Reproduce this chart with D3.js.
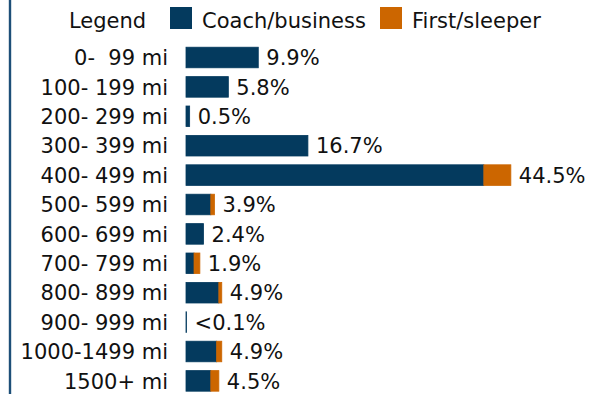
<!DOCTYPE html>
<html>
<head>
<meta charset="utf-8">
<script src="https://cdn.jsdelivr.net/npm/d3@7"></script>
<style>
  html, body { margin: 0; padding: 0; background: #fff; }
  svg { display: block; font-family: "DejaVu Sans", Verdana, sans-serif; }
  text { white-space: pre; }
</style>
</head>
<body>
<div id="chart"></div>
<script>
// Trip distance bands and share of trips (%) by class of service
const categories = ["0-  99 mi", "100- 199 mi", "200- 299 mi", "300- 399 mi", "400- 499 mi",
  "500- 599 mi", "600- 699 mi", "700- 799 mi", "800- 899 mi", "900- 999 mi",
  "1000-1499 mi", "1500+ mi"];
const coachBusiness = [9.9, 5.8, 0.5, 16.7, 40.8, 3.4, 2.4, 1.1, 4.5, 0.08, 4.2, 3.4];
const firstSleeper  = [0,   0,   0,   0,    3.7,  0.5, 0,   0.8, 0.4, 0,    0.7, 1.1];
const valueLabels = ["9.9%", "5.8%", "0.5%", "16.7%", "44.5%", "3.9%", "2.4%", "1.9%",
  "4.9%", "<0.1%", "4.9%", "4.5%"];
const seriesNames = ["Coach/business", "First/sleeper"];
const colors = ["#043a5e", "#cc6600"];

const width = 607, height = 394;
const fontSize = 21;

const svg = d3.select("#chart").append("svg")
  .attr("width", width).attr("height", height);

const rows = categories.map((c, i) => ({
  cat: c,
  coach: coachBusiness[i],
  first: firstSleeper[i],
  label: valueLabels[i]
}));

const stack = d3.stack().keys(["coach", "first"]);
const layers = stack(rows);

const x = d3.scaleLinear().domain([0, 50]).range([186, 551]);
const y = d3.scaleBand().domain(categories).range([42.8, 395.6])
  .paddingInner(0.3).paddingOuter(0.15);

// left rule
svg.append("line")
  .attr("x1", 10).attr("x2", 10).attr("y1", 0).attr("y2", height)
  .attr("stroke", "#1d4f78").attr("stroke-width", 2.4);

// stacked bars
svg.append("g").selectAll("g")
  .data(layers)
  .join("g")
  .attr("fill", (d, i) => colors[i])
  .attr("stroke", (d, i) => colors[i])
  .attr("stroke-width", 0.8)
  .selectAll("rect")
  .data(d => d.filter(s => s[1] - s[0] > 0))
  .join("rect")
  .attr("x", d => x(d[0]))
  .attr("y", d => y(d.data.cat))
  .attr("width", d => x(d[1]) - x(d[0]))
  .attr("height", y.bandwidth());

// category labels (axis without line/ticks)
const yAxis = d3.axisLeft(y).tickSize(0).tickPadding(0);
const ag = svg.append("g").attr("transform", "translate(168,0)").call(yAxis);
ag.select(".domain").remove();
ag.selectAll("text")
  .attr("font-family", "DejaVu Sans, Verdana, sans-serif")
  .attr("font-size", fontSize)
  .attr("fill", "#111")
  .attr("dy", "0.37em");

// value labels
svg.append("g").selectAll("text")
  .data(rows)
  .join("text")
  .attr("x", d => x(d.coach + d.first) + 8)
  .attr("y", d => y(d.cat) + y.bandwidth() / 2)
  .attr("dy", "0.37em")
  .attr("font-size", fontSize)
  .attr("fill", "#111")
  .text(d => d.label);

// legend
const legend = svg.append("g");
legend.append("text")
  .attr("x", 69).attr("y", 20).attr("dy", "0.37em")
  .attr("font-size", fontSize).attr("fill", "#111")
  .text("Legend");
const legendX = [170, 380];
seriesNames.forEach((name, i) => {
  legend.append("rect")
    .attr("x", legendX[i]).attr("y", 7).attr("width", 22).attr("height", 22)
    .attr("fill", colors[i]);
  legend.append("text")
    .attr("x", legendX[i] + 32).attr("y", 20).attr("dy", "0.37em")
    .attr("font-size", fontSize).attr("fill", "#111")
    .text(name);
});
</script>
</body>
</html>
